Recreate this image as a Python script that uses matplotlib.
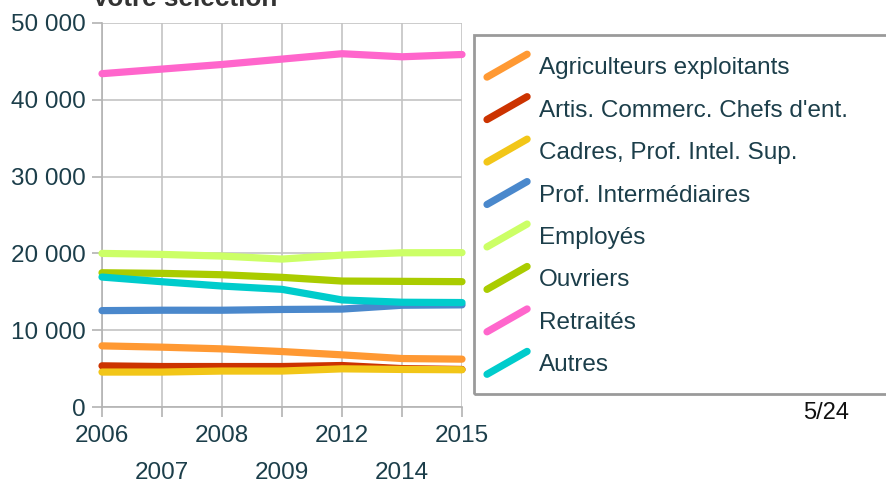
import matplotlib
matplotlib.use("Agg")
import matplotlib.pyplot as plt
from matplotlib.lines import Line2D
from matplotlib.legend_handler import HandlerBase
from matplotlib.patches import Rectangle

years = ["2006", "2007", "2008", "2009", "2012", "2014", "2015"]

agriculteurs = [7960, 7790, 7570, 7220, 6790, 6310, 6230]
artisans = [5360, 5270, 5270, 5270, 5400, 5000, 4890]
cadres = [4550, 4550, 4680, 4680, 4970, 4890, 4850]
prof_inter = [12550, 12600, 12600, 12700, 12750, 13250, 13300]
employes = [20000, 19870, 19650, 19260, 19780, 20080, 20100]
ouvriers = [17480, 17400, 17220, 16880, 16400, 16360, 16320]
retraites = [43400, 44000, 44600, 45300, 46000, 45600, 45900]
autres = [16920, 16310, 15750, 15320, 13940, 13640, 13600]

series_names = ["Agriculteurs exploitants", "Artis. Commerc. Chefs d'ent.",
                "Cadres, Prof. Intel. Sup.", "Prof. Intermédiaires", "Employés",
                "Ouvriers", "Retraités", "Autres"]
series_values = [agriculteurs, artisans, cadres, prof_inter, employes,
                 ouvriers, retraites, autres]
colors = ["#FF9933", "#CC3300", "#F2C618", "#4A88CC", "#CCFF66",
          "#AACC00", "#FF66CC", "#00CCCC"]

y_ticks = [0, 10000, 20000, 30000, 40000, 50000]
y_tick_labels = ["0", "10 000", "20 000", "30 000", "40 000", "50 000"]

plt.rcParams['font.family'] = ['Liberation Sans', 'DejaVu Sans']
text_color = "#1C3E4A"
W, H = 886, 484
fig = plt.figure(figsize=(W / 100, H / 100), dpi=100)
left, right, top, bottom = 102, 462, 23, 407
ax = fig.add_axes([left / W, (H - bottom) / H, (right - left) / W, (bottom - top) / H])

x = list(range(len(years)))
for name, vals, c in zip(series_names, series_values, colors):
    ax.plot(x, vals, color=c, lw=5.2, solid_capstyle='round', solid_joinstyle='round',
            label=name, zorder=3, clip_on=False)

ax.set_xlim(0, len(years) - 1)
ax.set_ylim(0, 50000)
ax.set_yticks(y_ticks)
ax.set_yticklabels(y_tick_labels)
ax.set_xticks(x[0::2])
ax.set_xticklabels(years[0::2])
ax.set_xticks(x[1::2], minor=True)
ax.set_xticklabels(years[1::2], minor=True)

ax.grid(True, which='major', color="#C4C4C4", lw=1.2, zorder=0)
ax.grid(True, which='minor', axis='x', color="#C4C4C4", lw=1.2, zorder=0)
for s in ["top", "right"]:
    ax.spines[s].set_visible(False)
for s in ["left", "bottom"]:
    ax.spines[s].set_color("#B3B3B3")
    ax.spines[s].set_linewidth(1.2)
ax.tick_params(axis='both', which='both', colors="#B3B3B3", length=7, width=1.2,
               labelsize=17.5, labelcolor=text_color)
ax.tick_params(axis='y', pad=5)
ax.tick_params(axis='x', which='major', pad=6)
ax.tick_params(axis='x', which='minor', pad=32.5)

fig.text(92 / W, 1 - 6 / H, "Votre sélection", fontsize=18.8, fontweight='bold',
         color="#333333", ha='left', va='baseline')


class DiagHandler(HandlerBase):
    def create_artists(self, legend, orig_handle, xdescent, ydescent, width, height,
                       fontsize, trans):
        ln = Line2D([-xdescent, -xdescent + width], [-ydescent - 2, -ydescent + height + 2],
                    color=orig_handle.get_color(), lw=orig_handle.get_linewidth(),
                    solid_capstyle='round', transform=trans)
        return [ln]


handles = ax.get_lines()
leg = fig.legend(handles, series_names, loc='upper left',
                 bbox_to_anchor=(487 / W, 1 - 57 / H), frameon=False,
                 fontsize=17.5, labelcolor=text_color, handler_map={Line2D: DiagHandler()},
                 handlelength=1.65, handleheight=0.72, handletextpad=0.5,
                 labelspacing=0.835, borderpad=0, borderaxespad=0)
fig.patches.append(Rectangle((474 / W, (H - 394) / H), 0.6, (394 - 35) / H,
                             transform=fig.transFigure, fill=False,
                             edgecolor="#9A9A9A", lw=2))

fig.text(826 / W, 1 - 413 / H, "5/24", fontsize=17, color="#111111",
         ha='center', va='center')

fig.savefig("out.png", dpi=100)
